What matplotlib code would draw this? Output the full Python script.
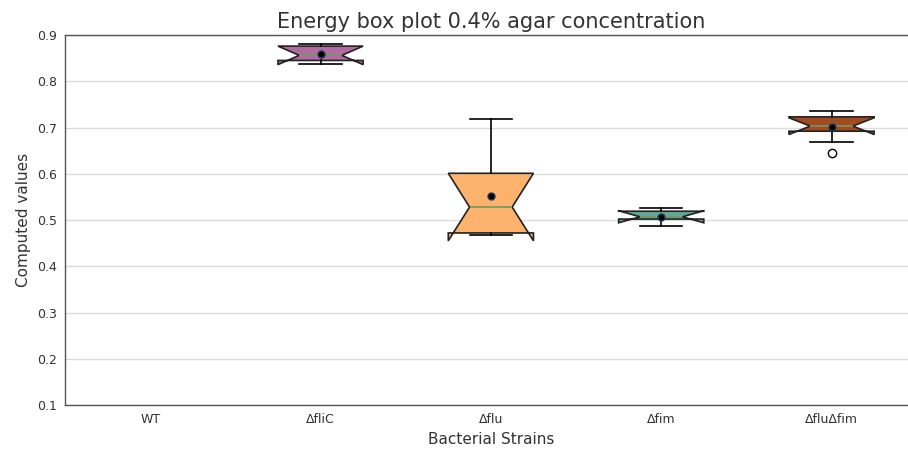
import matplotlib
matplotlib.use('Agg')
import matplotlib.pyplot as plt
import numpy as np

strains = ['WT', 'ΔfliC', 'Δflu', 'Δfim', 'ΔfluΔfim']
# summary stats per strain (WT has no data at this concentration)
box_strains = ['ΔfliC', 'Δflu', 'Δfim', 'ΔfluΔfim']
med = [0.856, 0.528, 0.507, 0.703]
q1 = [0.845, 0.472, 0.502, 0.692]
q3 = [0.876, 0.601, 0.519, 0.723]
whislo = [0.838, 0.467, 0.487, 0.669]
whishi = [0.881, 0.718, 0.525, 0.735]
means = [0.859, 0.551, 0.507, 0.702]
cilo = [0.836, 0.455, 0.494, 0.685]
cihi = [0.876, 0.601, 0.520, 0.721]
fliers = [[], [], [], [0.645]]
colors = ['#b26ba2', '#fdb36e', '#62a898', '#a24b20']

stats = []
for i, name in enumerate(box_strains):
    stats.append(dict(label=name, med=med[i], q1=q1[i], q3=q3[i],
                      whislo=whislo[i], whishi=whishi[i], mean=means[i],
                      cilo=cilo[i], cihi=cihi[i], fliers=fliers[i]))

fig = plt.figure(figsize=(9.08, 4.5), dpi=100)
ax = fig.add_axes([0.0716, 0.1, 0.938, 0.8222])

positions = [strains.index(s) for s in box_strains]
bp = ax.bxp(stats, positions=positions, widths=0.5, shownotches=True,
            showmeans=True, patch_artist=True,
            boxprops=dict(edgecolor='#222222', linewidth=1.2),
            whiskerprops=dict(color='black', linewidth=1.2),
            capprops=dict(color='black', linewidth=1.2),
            medianprops=dict(color='#6f9a5f', linewidth=1.2),
            meanprops=dict(marker='o', markerfacecolor='black',
                           markeredgecolor='#1f3a5a', markersize=5),
            flierprops=dict(marker='o', markerfacecolor='white',
                            markeredgecolor='black', markersize=6))
for patch, c in zip(bp['boxes'], colors):
    patch.set_facecolor(c)

ax.set_xlim(-0.5, 4.5)
ax.set_ylim(0.1, 0.9)
ax.set_yticks(np.arange(0.1, 0.91, 0.1))
ax.set_xticks(range(len(strains)))
ax.set_xticklabels(strains)
ax.tick_params(length=0, labelsize=9, colors='#333333', pad=6)
ax.yaxis.grid(True, color='#dcdcdc', linewidth=1)
ax.set_axisbelow(True)
for sp in ax.spines.values():
    sp.set_color('#555555')
    sp.set_linewidth(1.0)
ax.spines['right'].set_visible(False)

ax.set_title('Energy box plot 0.4% agar concentration', fontsize=15,
             color='#333333', pad=5)
ax.set_xlabel('Bacterial Strains', fontsize=11, color='#333333')
ax.set_ylabel('Computed values', fontsize=11, color='#333333')

fig.savefig('out.png', dpi=100)
